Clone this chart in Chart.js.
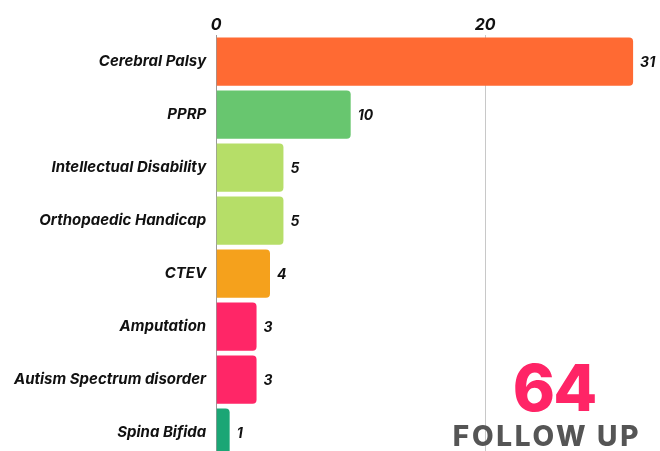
<!DOCTYPE html>
<html>
<head>
<meta charset="utf-8">
<script src="https://cdn.jsdelivr.net/npm/chart.js@4"></script>
<style>
  html, body { margin:0; padding:0; width:660px; height:451px; overflow:hidden; background:#fff; }
  #wrap { position:relative; width:660px; height:451px; overflow:hidden; }
  #c { position:absolute; left:0; top:0; }
  .big { position:absolute; font-family:"Inter","Noto Sans",sans-serif; font-weight:800; text-align:center; white-space:nowrap; }
  #num { left:454px; width:200px; top:356px; font-size:64px; line-height:64px; color:#FF2466; letter-spacing:-2px; }
  #fu { left:439px; width:216px; top:419px; font-size:28px; line-height:34px; color:#555555; letter-spacing:2.7px; }
</style>
</head>
<body>
<div id="wrap">
  <canvas id="c" width="660" height="478"></canvas>
  <div class="big" id="num">64</div>
  <div class="big" id="fu">FOLLOW UP</div>
</div>
<script>
const categories = ["Cerebral Palsy","PPRP","Intellectual Disability","Orthopaedic Handicap","CTEV","Amputation","Autism Spectrum disorder","Spina Bifida"];
const values = [31, 10, 5, 5, 4, 3, 3, 1];
const barColors = ["#FF6A33","#68C66F","#B6DE68","#B6DE68","#F5A11C","#FF2667","#FF2667","#1BA675"];
const tickValues = [0, 20];

const labelPlugin = {
  id: 'valueLabels',
  afterDatasetsDraw(chart) {
    const ctx = chart.ctx;
    const meta = chart.getDatasetMeta(0);
    ctx.save();
    ctx.font = 'italic bold 14px Inter, "Noto Sans", sans-serif';
    ctx.fillStyle = '#111';
    ctx.textAlign = 'left';
    ctx.textBaseline = 'middle';
    meta.data.forEach((bar, i) => {
      ctx.fillText(String(values[i]), bar.x + 7, bar.y + 1);
    });
    ctx.restore();
  }
};

new Chart(document.getElementById('c'), {
  type: 'bar',
  data: {
    labels: categories,
    datasets: [{
      data: values,
      backgroundColor: barColors,
      borderRadius: 4,
      borderSkipped: 'start',
      barPercentage: 0.91,
      categoryPercentage: 1.0
    }]
  },
  options: {
    indexAxis: 'y',
    responsive: false,
    animation: false,
    devicePixelRatio: 1,
    layout: { padding: { top: 16, right: 0, left: 4, bottom: 0 } },
    plugins: { legend: { display: false }, tooltip: { enabled: false } },
    scales: {
      x: {
        position: 'top',
        min: 0, max: 33,
        afterBuildTicks(axis) { axis.ticks = tickValues.map(v => ({ value: v })); },
        grid: { color: '#c8c8c8', lineWidth: 1, drawTicks: false },
        border: { display: false },
        ticks: {
          padding: 0,
          color: '#111',
          font: { family: 'Inter, "Noto Sans", sans-serif', size: 16, weight: 'bold', style: 'italic' }
        }
      },
      y: {
        grid: { display: false, drawTicks: false },
        border: { display: true, color: '#999' },
        ticks: {
          padding: 10,
          color: '#111',
          font: { family: 'Inter, "Noto Sans", sans-serif', size: 15, weight: 'bold', style: 'italic' }
        }
      }
    }
  },
  plugins: [labelPlugin]
});
</script>
</body>
</html>
